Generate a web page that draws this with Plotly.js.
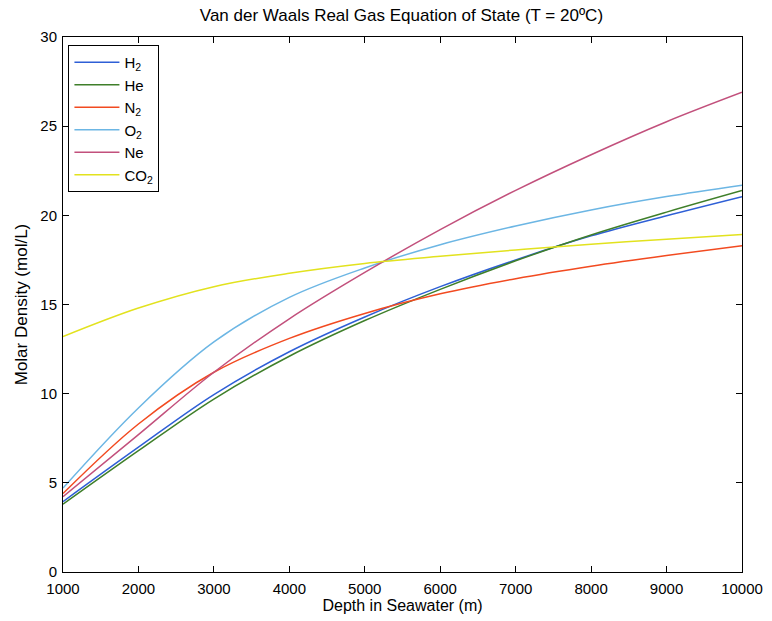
<!DOCTYPE html>
<html>
<head>
<meta charset="utf-8">
<script src="https://cdn.plot.ly/plotly-3.0.1.min.js"></script>
<style>html,body{margin:0;padding:0;background:#fff;}#chart{width:772px;height:621px;}</style>
</head>
<body>
<div id="chart"></div>
<script>
const depth = [1000, 2000, 3000, 4000, 5000, 6000, 7000, 8000, 9000, 10000];
const h2  = [3.95, 7.0, 9.95, 12.35, 14.3, 16.0, 17.5, 18.85, 19.98, 21.05];
const he  = [3.8, 6.8, 9.7, 12.1, 14.1, 15.85, 17.45, 18.9, 20.18, 21.39];
const n2  = [4.4, 8.3, 11.2, 13.1, 14.5, 15.6, 16.45, 17.15, 17.75, 18.3];
const o2  = [4.71, 9.2, 12.9, 15.4, 17.05, 18.35, 19.4, 20.3, 21.05, 21.69];
const ne  = [4.22, 7.7, 11.2, 14.2, 16.8, 19.2, 21.4, 23.4, 25.25, 26.9];
const co2 = [13.2, 14.8, 16.0, 16.75, 17.3, 17.7, 18.06, 18.38, 18.66, 18.92];
const names = ["H<sub>2</sub>", "He", "N<sub>2</sub>", "O<sub>2</sub>", "Ne", "CO<sub>2</sub>"];
const series = [h2, he, n2, o2, ne, co2];
const colors = ["#2e5fd6", "#3f7f2a", "#f24a20", "#6cb6e4", "#c2507c", "#e2e21e"];

const traces = series.map((ys, i) => ({
  x: depth, y: ys, name: names[i], type: "scatter", mode: "lines",
  line: {color: colors[i], width: 1.5, shape: "spline", smoothing: 1}
}));

const axisCommon = {
  showgrid: false, zeroline: false, showline: true, linecolor: "#000", linewidth: 1,
  mirror: "ticks", ticks: "inside", ticklen: 6, tickcolor: "#000",
  tickfont: {family: "Liberation Sans, Arial, sans-serif", size: 15, color: "#000"}
};

const layout = {
  width: 772, height: 621,
  margin: {l: 63, r: 30, t: 37, b: 49},
  paper_bgcolor: "#fff", plot_bgcolor: "#fff",
  font: {family: "Liberation Sans, Arial, sans-serif", color: "#000"},
  title: {text: "Van der Waals Real Gas Equation of State (T = 20ºC)", font: {size: 17, color: "#000"}, x: 0.52, xanchor: "center", y: 0.975, yanchor: "middle"},
  xaxis: Object.assign({}, axisCommon, {range: [1000, 10000], dtick: 1000, tick0: 1000, tickformat: "d",
    ticklabelstandoff: 3,
    title: {text: "Depth in Seawater (m)", font: {size: 16}, standoff: 0}}),
  yaxis: Object.assign({}, axisCommon, {range: [0, 30], dtick: 5, ticklabelstandoff: 2,
    title: {text: "Molar Density (mol/L)", font: {size: 17}, standoff: 8}}),
  showlegend: true,
  legend: {x: 0.008, y: 0.985, xanchor: "left", yanchor: "top", bgcolor: "#fff",
    bordercolor: "#000", borderwidth: 1, font: {size: 15, color: "#000"}, tracegroupgap: 0, itemwidth: 45}
};

Plotly.newPlot("chart", traces, layout, {displayModeBar: false, staticPlot: true});
</script>
</body>
</html>
